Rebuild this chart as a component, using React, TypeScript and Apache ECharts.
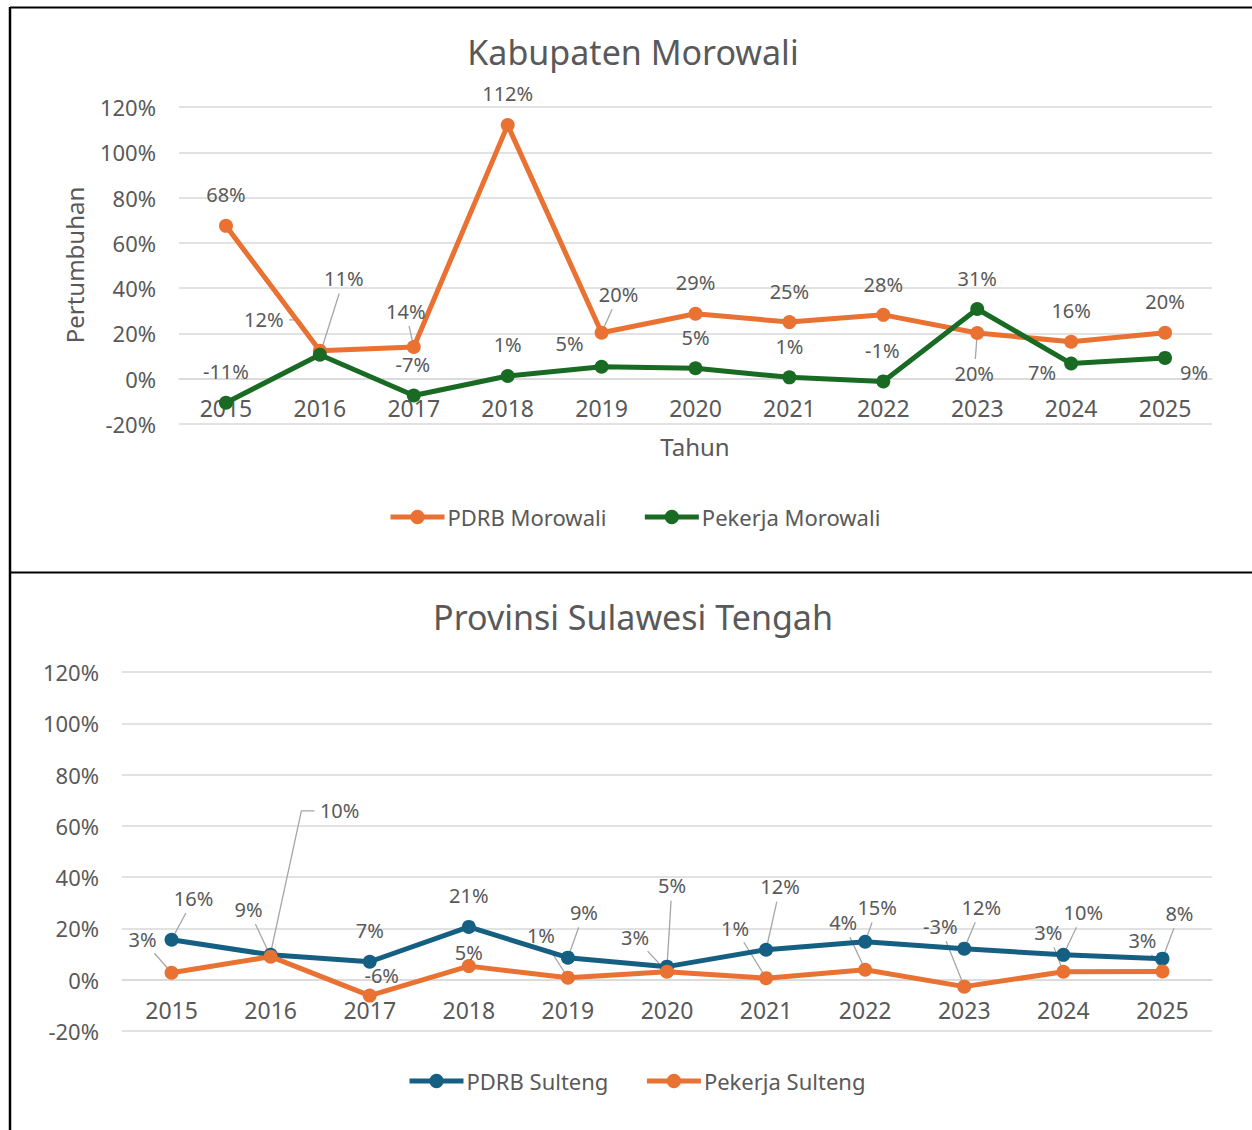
import React, { useEffect, useRef } from "react";
import * as echarts from "echarts";

// ---------------- data ----------------
const years = ["2015", "2016", "2017", "2018", "2019", "2020", "2021", "2022", "2023", "2024", "2025"];

const pdrbMorowali = [67.5, 12.3, 14.0, 112.0, 20.3, 28.7, 25.0, 28.2, 20.2, 16.3, 20.3];
const pekerjaMorowali = [-10.6, 10.6, -7.4, 1.2, 5.3, 4.6, 0.6, -1.2, 30.8, 6.7, 9.2];

const pdrbSulteng = [15.6, 9.7, 7.0, 20.6, 8.6, 5.1, 11.7, 14.8, 12.1, 9.7, 8.2];
const pekerjaSulteng = [2.7, 9.0, -6.2, 5.3, 0.8, 3.1, 0.6, 3.9, -2.7, 3.1, 3.2];

const yMin = -20;
const yMax = 120;
const yStep = 20;

// ---------------- label placement (styling) ----------------
const offPdrbMorowali = [[0, -31], [-56, -31], [-8, -36], [0, -32], [17, -38], [0, -31], [0, -31], [0, -30], [-3, 41], [0, -31], [0, -31]];
const leadPdrbMorowali = ["", "er", "s", "", "s", "", "", "", "s", "", ""];
const offPekerjaMorowali = [[0, -31], [24, -76], [-1, -31], [0, -31], [-32, -23], [0, -31], [0, -31], [-1, -31], [0, -30], [-29, 9], [29, 15]];
const leadPekerjaMorowali = ["", "s", "", "", "", "", "", "", "", "", ""];

const offPdrbSulteng = [[22, -41], [69, -144], [0, -31], [0, -31], [16, -45], [5, -81], [14, -63], [12, -34], [17, -41], [20, -42], [17, -45]];
const leadPdrbSulteng = ["s", "el", "", "", "s", "s", "s", "s", "s", "s", "s"];
const offPekerjaSulteng = [[-29, -33], [-22, -47], [12, -20], [0, -14], [-27, -42], [-32, -34], [-31, -50], [-22, -47], [-24, -60], [-15, -39], [-20, -31]];
const leadPekerjaSulteng = ["s", "s", "", "", "s", "s", "s", "s", "s", "s", "s"];

const ORANGE = "#E97132";
const GREEN = "#196B24";
const BLUE = "#156082";
const TEXT = "#595959";
const GRID = "#D9D9D9";
const LEADER = "#A6A6A6";
const FONT = "'Noto Sans', sans-serif";

const fmt = (v: number) => Math.round(v) + "%";

function makeSeries(name: string, values: number[], offsets: number[][], color: string, idx: number) {
  return {
    type: "line",
    name,
    xAxisIndex: idx,
    yAxisIndex: idx,
    data: values.map((v, i) => ({ value: v, label: { offset: offsets[i] } })),
    symbol: "circle",
    symbolSize: 14,
    showAllSymbol: true,
    lineStyle: { color, width: 5 },
    itemStyle: { color },
    label: {
      show: true,
      position: "inside",
      formatter: (p: any) => fmt(p.value),
      color: TEXT,
      fontSize: 20,
      fontFamily: FONT,
      align: "center",
      verticalAlign: "middle",
    },
    emphasis: { disabled: true },
  };
}

function makeXAxis(gridIndex: number, margin: number) {
  return {
    type: "category",
    gridIndex,
    data: years,
    boundaryGap: true,
    axisLine: { show: true, onZero: false, lineStyle: { color: GRID, width: 1.5 } },
    axisTick: { show: false },
    axisLabel: { color: TEXT, fontSize: 23, fontFamily: FONT, margin },
    splitLine: { show: false },
  };
}

function makeYAxis(gridIndex: number) {
  return {
    type: "value",
    gridIndex,
    min: yMin,
    max: yMax,
    interval: yStep,
    axisLine: { show: false },
    axisTick: { show: false },
    axisLabel: { color: TEXT, fontSize: 22, fontFamily: FONT, margin: 23, formatter: "{value}%" },
    splitLine: { lineStyle: { color: GRID, width: 1.5 } },
  };
}

function legendCfg(names: string[], left: number, top: number) {
  return {
    data: names,
    left,
    top,
    orient: "horizontal",
    itemWidth: 54,
    itemHeight: 18,
    itemGap: 36,
    lineStyle: { width: 5 },
    textStyle: { color: TEXT, fontSize: 22, fontFamily: FONT, padding: [0, 0, 0, -2] },
    selectedMode: false,
  };
}

export default function App() {
  const ref = useRef<HTMLDivElement>(null);

  useEffect(() => {
    if (!ref.current) return;
    const chart = echarts.init(ref.current, undefined, { renderer: "svg" });

    chart.setOption({
      animation: false,
      backgroundColor: "#ffffff",
      grid: [
        { left: 179, right: 40, top: 107, height: 317 },
        { left: 122, right: 40, top: 672, height: 359 },
      ],
      xAxis: [makeXAxis(0, 18), makeXAxis(1, 19)],
      yAxis: [makeYAxis(0), makeYAxis(1)],
      legend: [
        legendCfg(["PDRB Morowali", "Pekerja Morowali"], 383, 501),
        legendCfg(["PDRB Sulteng", "Pekerja Sulteng"], 402, 1065),
      ],
      series: [
        makeSeries("PDRB Morowali", pdrbMorowali, offPdrbMorowali, ORANGE, 0),
        makeSeries("Pekerja Morowali", pekerjaMorowali, offPekerjaMorowali, GREEN, 0),
        makeSeries("PDRB Sulteng", pdrbSulteng, offPdrbSulteng, BLUE, 1),
        makeSeries("Pekerja Sulteng", pekerjaSulteng, offPekerjaSulteng, ORANGE, 1),
      ],
    });

    // place the category axes on the zero line (as in the reference)
    const axisOffset = (idx: number) => {
      const zero = chart.convertToPixel({ yAxisIndex: idx } as any, 0) as number;
      const bottom = chart.convertToPixel({ yAxisIndex: idx } as any, yMin) as number;
      return zero - bottom;
    };

    const graphics: any[] = [];

    const addLeaders = (gridIndex: number, values: number[], offsets: number[][], kinds: string[]) => {
      values.forEach((v, i) => {
        const kind = kinds[i];
        if (!kind) return;
        const p = chart.convertToPixel({ gridIndex } as any, [i, v]) as number[];
        if (!p) return;
        const cx = p[0] + offsets[i][0];
        const cy = p[1] + offsets[i][1];
        const text = fmt(v);
        const hw = (text.length * 11.5) / 2;
        const hh = 9;
        let pts: number[][];
        if (kind === "er") {
          const sx = cx + hw + 8;
          pts = [[sx, cy], [sx + 10, cy], [p[0], p[1] - 2]];
        } else if (kind === "el") {
          const sx = cx - hw - 8;
          pts = [[sx, cy], [sx - 13, cy], [p[0], p[1] - 2]];
        } else {
          const dx = p[0] - cx;
          const dy = p[1] - cy;
          const len = Math.sqrt(dx * dx + dy * dy);
          const ux = dx / len;
          const uy = dy / len;
          const t = Math.min(Math.abs(dx) > 0.01 ? hw / Math.abs(dx) : 1e9, Math.abs(dy) > 0.01 ? hh / Math.abs(dy) : 1e9);
          const sx = cx + dx * t + ux * 6;
          const sy = cy + dy * t + uy * 6;
          pts = [[sx, sy], [p[0] - ux * 2, p[1] - uy * 2]];
        }
        graphics.push({
          type: "polyline",
          silent: true,
          z: 1,
          shape: { points: pts },
          style: { stroke: LEADER, lineWidth: 1.3, fill: null },
        });
      });
    };

    addLeaders(0, pdrbMorowali, offPdrbMorowali, leadPdrbMorowali);
    addLeaders(0, pekerjaMorowali, offPekerjaMorowali, leadPekerjaMorowali);
    addLeaders(1, pdrbSulteng, offPdrbSulteng, leadPdrbSulteng);
    addLeaders(1, pekerjaSulteng, offPekerjaSulteng, leadPekerjaSulteng);

    // titles & axis names
    graphics.push(
      {
        type: "text", x: 633, y: 52, silent: true,
        style: { text: "Kabupaten Morowali", fill: TEXT, fontSize: 34, fontFamily: FONT, align: "center", verticalAlign: "middle" },
      },
      {
        type: "text", x: 633, y: 617, silent: true,
        style: { text: "Provinsi Sulawesi Tengah", fill: TEXT, fontSize: 34, fontFamily: FONT, align: "center", verticalAlign: "middle" },
      },
      {
        type: "text", x: 695, y: 446, silent: true,
        style: { text: "Tahun", fill: TEXT, fontSize: 24, fontFamily: FONT, align: "center", verticalAlign: "middle" },
      },
      {
        type: "text", x: 74, y: 265, rotation: Math.PI / 2, silent: true,
        style: { text: "Pertumbuhan", fill: TEXT, fontSize: 24, fontFamily: FONT, align: "center", verticalAlign: "middle" },
      },
      // frame lines
      { type: "line", silent: true, shape: { x1: 10, y1: 7.5, x2: 1252, y2: 7.5 }, style: { stroke: "#000", lineWidth: 2 } },
      { type: "line", silent: true, shape: { x1: 10, y1: 572.5, x2: 1252, y2: 572.5 }, style: { stroke: "#000", lineWidth: 2 } },
      { type: "line", silent: true, shape: { x1: 10, y1: 7, x2: 10, y2: 1130 }, style: { stroke: "#000", lineWidth: 2.5 } }
    );

    chart.setOption({
      xAxis: [{ offset: axisOffset(0) }, { offset: axisOffset(1) }],
      graphic: graphics,
    });

    return () => chart.dispose();
  }, []);

  return (
    <div
      ref={ref}
      style={{ position: "absolute", left: 0, top: 0, width: 1252, height: 1130, background: "#fff" }}
    />
  );
}
